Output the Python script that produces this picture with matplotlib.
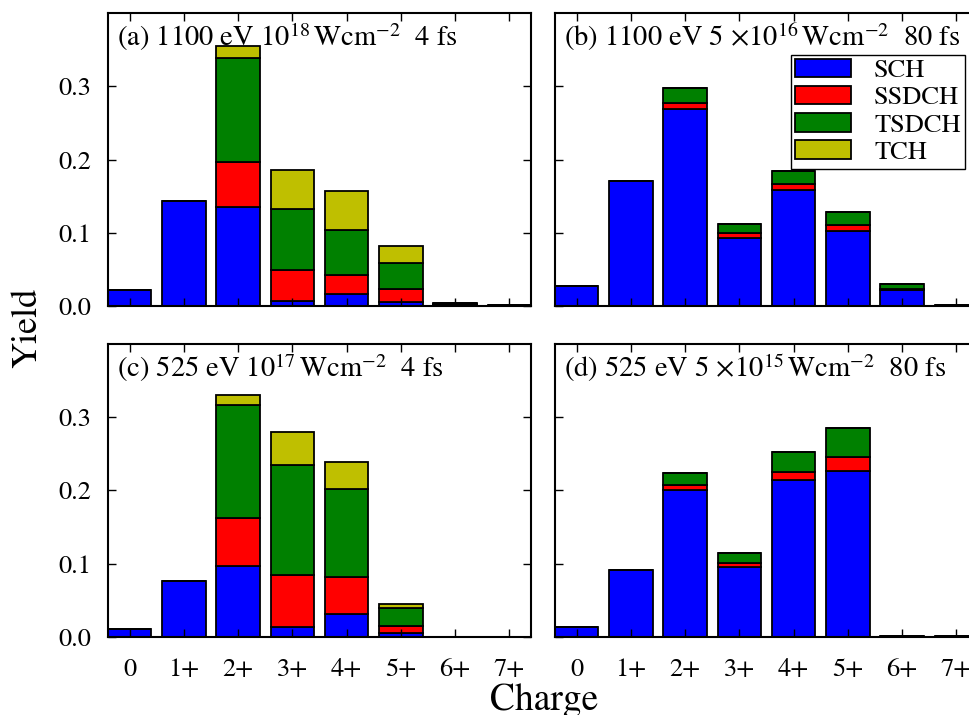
import numpy as np
import matplotlib
matplotlib.use("Agg")
import matplotlib.pyplot as plt

# -----------------------------------------
# Data
# -----------------------------------------
charges = ["0", "1+", "2+", "3+", "4+", "5+", "6+", "7+"]
series_names = ["SCH", "SSDCH", "TSDCH", "TCH"]
series_colors = ["b", "r", "g", "y"]

titles = [
    r"(a) 1100 eV $10^{18}\,\mathrm{Wcm}^{-2}$  4 fs",
    r"(b) 1100 eV 5 $\times 10^{16}\,\mathrm{Wcm}^{-2}$  80 fs",
    r"(c) 525 eV $10^{17}\,\mathrm{Wcm}^{-2}$  4 fs",
    r"(d) 525 eV 5 $\times 10^{15}\,\mathrm{Wcm}^{-2}$  80 fs",
]

# (a) 1100 eV, 4 fs
a_sch = [0.022, 0.144, 0.135, 0.007, 0.017, 0.005, 0.002, 0.001]
a_ssdch = [0.0, 0.0, 0.061, 0.042, 0.025, 0.018, 0.0005, 0.0]
a_tsdch = [0.0, 0.0, 0.143, 0.083, 0.062, 0.036, 0.0015, 0.0]
a_tch = [0.0, 0.0, 0.016, 0.054, 0.053, 0.023, 0.0, 0.0]

# (b) 1100 eV, 80 fs
b_sch = [0.027, 0.170, 0.269, 0.093, 0.158, 0.103, 0.022, 0.002]
b_ssdch = [0.0, 0.0, 0.008, 0.007, 0.009, 0.007, 0.001, 0.0]
b_tsdch = [0.0, 0.0, 0.021, 0.012, 0.018, 0.018, 0.007, 0.0]
b_tch = [0.0, 0.0, 0.0, 0.0, 0.0, 0.0, 0.0, 0.0]

# (c) 525 eV, 4 fs
c_sch = [0.011, 0.076, 0.097, 0.013, 0.032, 0.005, 0.0005, 0.0005]
c_ssdch = [0.0, 0.0, 0.066, 0.071, 0.050, 0.010, 0.0, 0.0]
c_tsdch = [0.0, 0.0, 0.154, 0.151, 0.120, 0.024, 0.0, 0.0]
c_tch = [0.0, 0.0, 0.014, 0.045, 0.037, 0.006, 0.0, 0.0]

# (d) 525 eV, 80 fs
d_sch = [0.013, 0.091, 0.200, 0.095, 0.214, 0.227, 0.002, 0.001]
d_ssdch = [0.0, 0.0, 0.007, 0.006, 0.011, 0.019, 0.0, 0.0]
d_tsdch = [0.0, 0.0, 0.017, 0.013, 0.027, 0.039, 0.0, 0.0]
d_tch = [0.0, 0.0, 0.0, 0.0, 0.0, 0.0, 0.0, 0.0]

panels = [
    [a_sch, a_ssdch, a_tsdch, a_tch],
    [b_sch, b_ssdch, b_tsdch, b_tch],
    [c_sch, c_ssdch, c_tsdch, c_tch],
    [d_sch, d_ssdch, d_tsdch, d_tch],
]

# -----------------------------------------
# Style
# -----------------------------------------
plt.rcParams["font.family"] = ["STIXGeneral", "DejaVu Serif"]
plt.rcParams["mathtext.fontset"] = "stix"

fig = plt.figure(figsize=(9.7, 7.15), dpi=100)

# axes positions [left, bottom, width, height] in figure fractions
left_x = [0.1113, 0.5722]
bottom_y = [0.572, 0.1091]
w, h = 0.4361, 0.4098

x = np.arange(len(charges))
bar_w = 0.8

for i, data in enumerate(panels):
    row, col = divmod(i, 2)
    ax = fig.add_axes([left_x[col], bottom_y[row], w, h])

    bottom = np.zeros(len(charges))
    for vals, name, color in zip(data, series_names, series_colors):
        vals = np.array(vals)
        ax.bar(x, vals, bar_w, bottom=bottom, color=color,
               edgecolor="k", linewidth=1.3, label=name, align="center")
        bottom = bottom + vals

    ax.set_xlim(-0.4, 7.4)
    ax.set_ylim(0, 0.4)
    ax.set_yticks([0.0, 0.1, 0.2, 0.3])
    ax.set_xticks(x)
    ax.tick_params(direction="in", top=True, right=True,
                   length=6, width=1, labelsize=19)
    ax.tick_params(axis="x", pad=15)
    ax.tick_params(axis="y", pad=12)
    for sp in ax.spines.values():
        sp.set_linewidth(1.5)

    if row == 1:
        ax.set_xticklabels(charges)
    else:
        ax.set_xticklabels([])
    if col == 0:
        ax.set_yticklabels(["0.0", "0.1", "0.2", "0.3"])
    else:
        ax.set_yticklabels([])

    ax.text(0.022, 0.975, titles[i], transform=ax.transAxes,
            ha="left", va="top", fontsize=20.5)

    if i == 1:
        leg = ax.legend(loc="upper right", bbox_to_anchor=(0.969, 0.857),
                        borderaxespad=0, fontsize=19, fancybox=False,
                        framealpha=1, edgecolor="k", handlelength=2.1,
                        handleheight=0.7, labelspacing=0.1,
                        handletextpad=0.9, borderpad=0.15)
        leg.get_frame().set_linewidth(1.0)

fig.text(0.028, 0.541, "Yield", rotation=90, ha="center", va="center",
         fontsize=26)
fig.text(0.561, 0.007, "Charge", ha="center", va="baseline", fontsize=27)

fig.savefig("out.png", dpi=100)
